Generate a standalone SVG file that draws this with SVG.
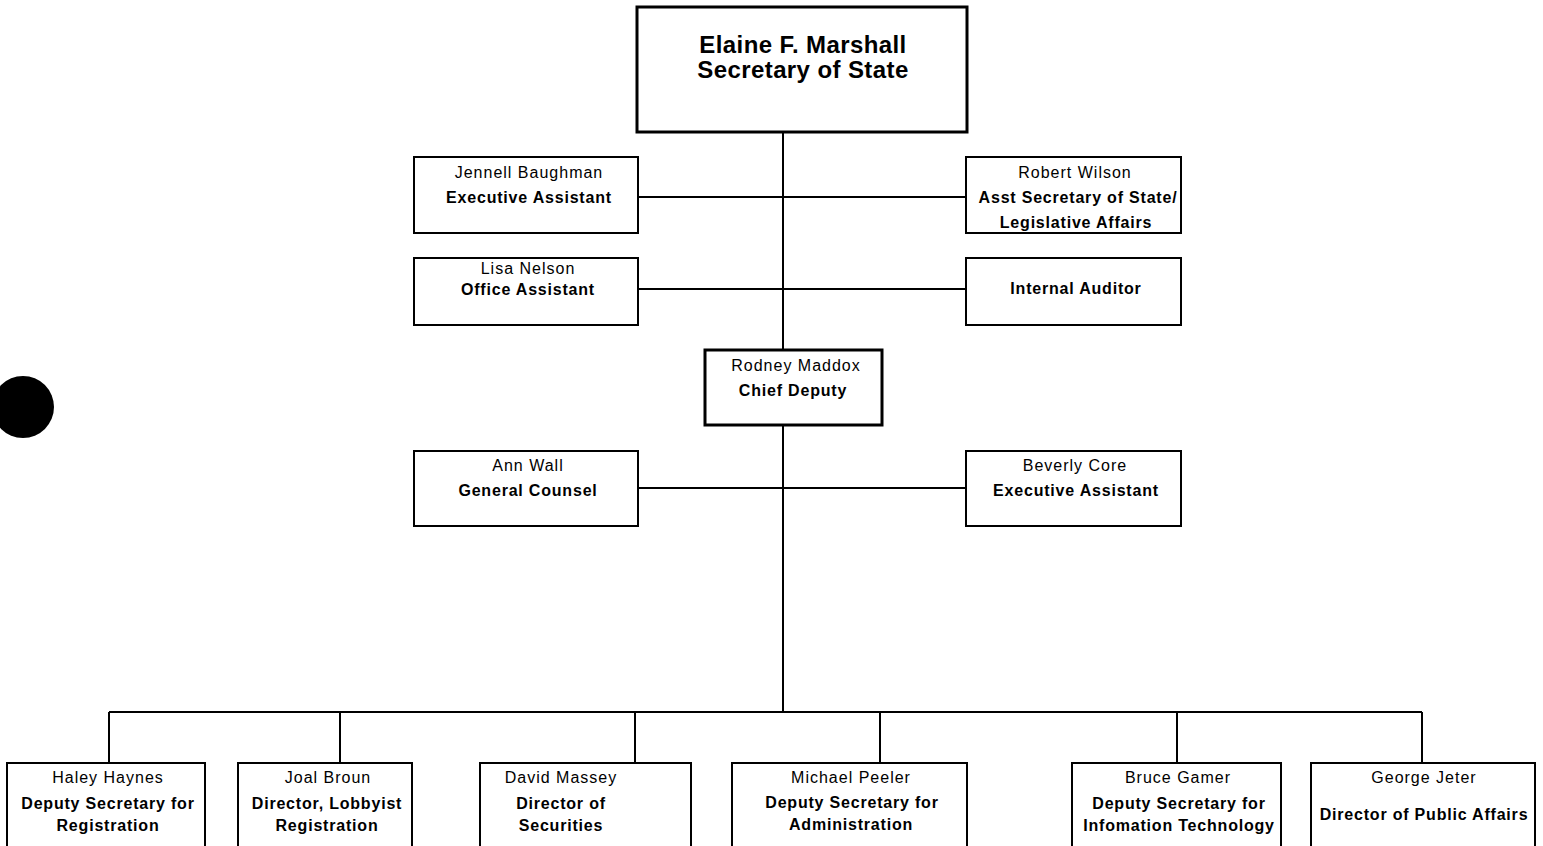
<svg xmlns="http://www.w3.org/2000/svg" width="1543" height="846" viewBox="0 0 1543 846">
<style>
.box{fill:#fff;stroke:#000;stroke-width:2}
.thick{stroke-width:3}
.ln{stroke:#000;stroke-width:2;fill:none}
text{font-family:"Liberation Sans",Arial,sans-serif;fill:#000;text-anchor:middle}
.n{font-size:16px;letter-spacing:1px}
.t{font-size:16px;font-weight:bold;letter-spacing:0.8px}
.big{font-size:24px;font-weight:bold;letter-spacing:0.4px}
</style>
<rect width="1543" height="846" fill="#fff"/>
<circle cx="23" cy="407" r="31" fill="#000"/>
<g id="connectors">
<path class="ln" d="M783 132V712"/>
<path class="ln" d="M638 197H966M638 289H966M638 488H966"/>
<path class="ln" d="M109 712H1422M109 712V763M340 712V763M635 712V763M880 712V763M1177 712V763M1422 712V763"/>
</g>
<g id="n-marshall"><rect class="box thick" x="637" y="7" width="330" height="125"/>
<text class="big" x="803" y="53">Elaine F. Marshall</text><text class="big" x="803" y="78">Secretary of State</text></g>
<g id="n-baughman"><rect class="box" x="414" y="157" width="224" height="76"/>
<text class="n" x="529" y="178">Jennell Baughman</text><text class="t" x="529" y="203">Executive Assistant</text></g>
<g id="n-wilson"><rect class="box" x="966" y="157" width="215" height="76"/>
<text class="n" x="1075" y="178">Robert Wilson</text><text class="t" x="1078" y="203">Asst Secretary of State/</text><text class="t" x="1076" y="228">Legislative Affairs</text></g>
<g id="n-nelson"><rect class="box" x="414" y="258" width="224" height="67"/>
<text class="n" x="528" y="274">Lisa Nelson</text><text class="t" x="528" y="295">Office Assistant</text></g>
<g id="n-auditor"><rect class="box" x="966" y="258" width="215" height="67"/>
<text class="t" x="1076" y="294">Internal Auditor</text></g>
<g id="n-maddox"><rect class="box thick" x="705" y="350" width="177" height="75"/>
<text class="n" x="796" y="371">Rodney Maddox</text><text class="t" x="793" y="396">Chief Deputy</text></g>
<g id="n-wall"><rect class="box" x="414" y="451" width="224" height="75"/>
<text class="n" x="528" y="471">Ann Wall</text><text class="t" x="528" y="496">General Counsel</text></g>
<g id="n-core"><rect class="box" x="966" y="451" width="215" height="75"/>
<text class="n" x="1075" y="471">Beverly Core</text><text class="t" x="1076" y="496">Executive Assistant</text></g>
<g id="n-haynes"><rect class="box" x="7" y="763" width="198" height="84"/>
<text class="n" x="108" y="783">Haley Haynes</text><text class="t" x="108" y="809">Deputy Secretary for</text><text class="t" x="108" y="831">Registration</text></g>
<g id="n-broun"><rect class="box" x="238" y="763" width="174" height="84"/>
<text class="n" x="328" y="783">Joal Broun</text><text class="t" x="327" y="809">Director, Lobbyist</text><text class="t" x="327" y="831">Registration</text></g>
<g id="n-massey"><rect class="box" x="480" y="763" width="211" height="84"/>
<text class="n" x="561" y="783">David Massey</text><text class="t" x="561" y="809">Director of</text><text class="t" x="561" y="831">Securities</text></g>
<g id="n-peeler"><rect class="box" x="732" y="763" width="235" height="84"/>
<text class="n" x="851" y="783">Michael Peeler</text><text class="t" x="852" y="808">Deputy Secretary for</text><text class="t" x="851" y="830">Administration</text></g>
<g id="n-garner"><rect class="box" x="1072" y="763" width="209" height="84"/>
<text class="n" x="1178" y="783">Bruce Gamer</text><text class="t" x="1179" y="809">Deputy Secretary for</text><text class="t" x="1179" y="831">Infomation Technology</text></g>
<g id="n-jeter"><rect class="box" x="1311" y="763" width="224" height="84"/>
<text class="n" x="1424" y="783">George Jeter</text><text class="t" x="1424" y="820">Director of Public Affairs</text></g>
</svg>
